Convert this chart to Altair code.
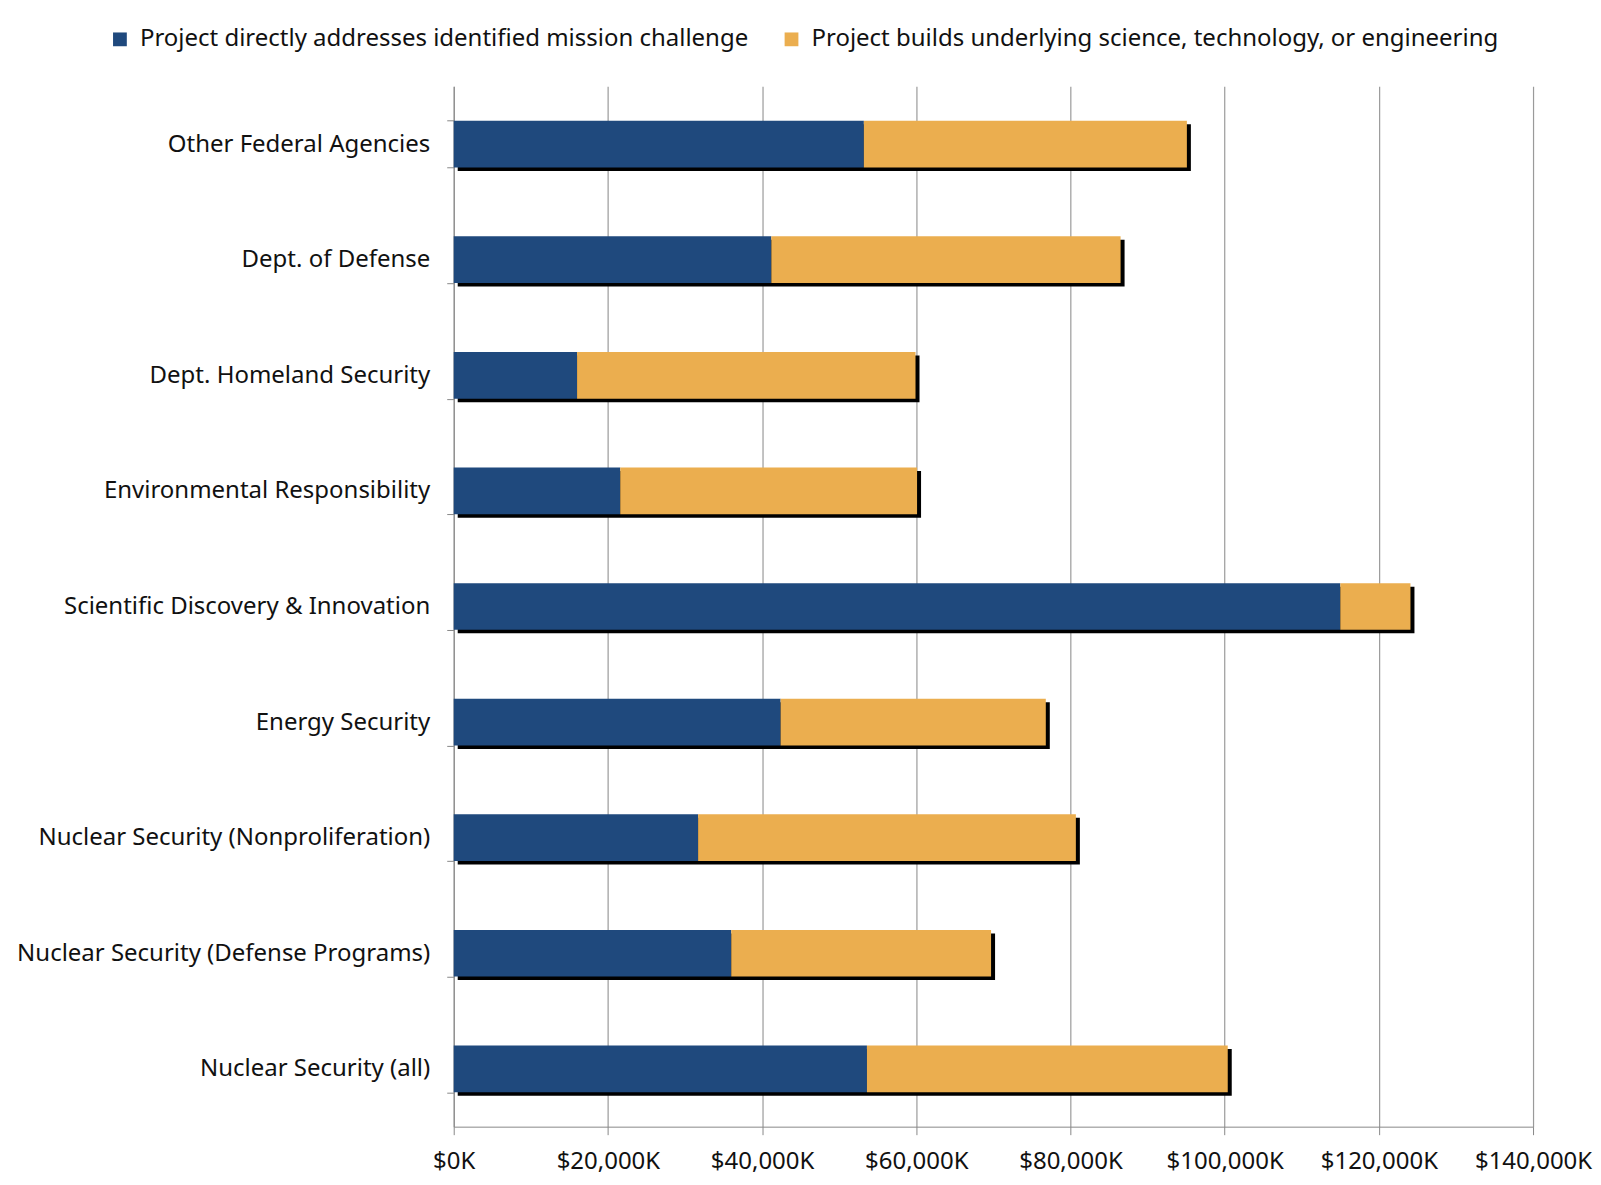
import altair as alt
import pandas as pd

categories = [
    "Other Federal Agencies",
    "Dept. of Defense",
    "Dept. Homeland Security",
    "Environmental Responsibility",
    "Scientific Discovery & Innovation",
    "Energy Security",
    "Nuclear Security (Nonproliferation)",
    "Nuclear Security (Defense Programs)",
    "Nuclear Security (all)",
]
series_names = [
    "Project directly addresses identified mission challenge",
    "Project builds underlying science, technology, or engineering",
]
mission_values = [53200, 41200, 16000, 21600, 115000, 42400, 31700, 36000, 53600]
science_values = [41900, 45300, 43900, 38500, 9100, 34400, 49000, 33700, 46800]
x_ticks = [0, 20000, 40000, 60000, 80000, 100000, 120000, 140000]
colors = ["#1F497D", "#EBAE4F"]

rows = []
for i, c in enumerate(categories):
    rows.append({"category": c, "series": series_names[0], "value": mission_values[i], "ord": 0})
    rows.append({"category": c, "series": series_names[1], "value": science_values[i], "ord": 1})
df = pd.DataFrame(rows)
tot = pd.DataFrame({"category": categories,
                    "total": [m + s for m, s in zip(mission_values, science_values)]})

FONT = "Noto Sans"
FS = 24

yscale = alt.Scale(domain=categories, paddingInner=0.596, paddingOuter=0.298)
yenc = alt.Y("category:N", sort=categories, scale=yscale, title=None,
             axis=alt.Axis(labelFontSize=FS, labelFont=FONT, labelColor="#111111",
                           labelPadding=17, tickSize=7, tickColor="#888888",
                           domainColor="#888888", tickBand="extent", labelLimit=600))

xscale = alt.Scale(domain=[0, 140000], nice=False)

shadow = alt.Chart(tot).mark_bar(color="#000000", xOffset=4, yOffset=3.5).encode(
    x=alt.X("total:Q", scale=xscale),
    y=yenc,
)

bars = alt.Chart(df).mark_bar().encode(
    x=alt.X("value:Q", stack="zero", scale=xscale, title=None,
            axis=alt.Axis(values=x_ticks,
                          labelExpr="'$' + format(datum.value, ',') + 'K'",
                          labelFontSize=FS, labelFont=FONT, labelColor="#111111",
                          labelPadding=15, tickSize=8, tickColor="#888888",
                          domainColor="#888888", grid=True, gridColor="#9a9a9a",
                          gridWidth=1.2, labelFlush=False)),
    y=yenc,
    color=alt.Color("series:N", scale=alt.Scale(domain=series_names, range=colors),
                    legend=alt.Legend(title=None, orient="none", direction="horizontal",
                                      legendX=-346, legendY=-59, symbolType="square",
                                      symbolSize=190, symbolStrokeWidth=0,
                                      labelFontSize=FS, labelFont=FONT, labelColor="#111111",
                                      labelOffset=8, columnPadding=30, labelLimit=900)),
    order=alt.Order("ord:Q"),
)

chart = alt.layer(shadow, bars).properties(
    width=1080, height=1041,
    autosize=alt.AutoSizeParams(type="none"),
    padding={"left": 446, "top": 78, "right": 60, "bottom": 56},
    background="white",
).configure_view(stroke=None)

chart.save("out.html", embed_options={"renderer": "svg", "actions": False})
